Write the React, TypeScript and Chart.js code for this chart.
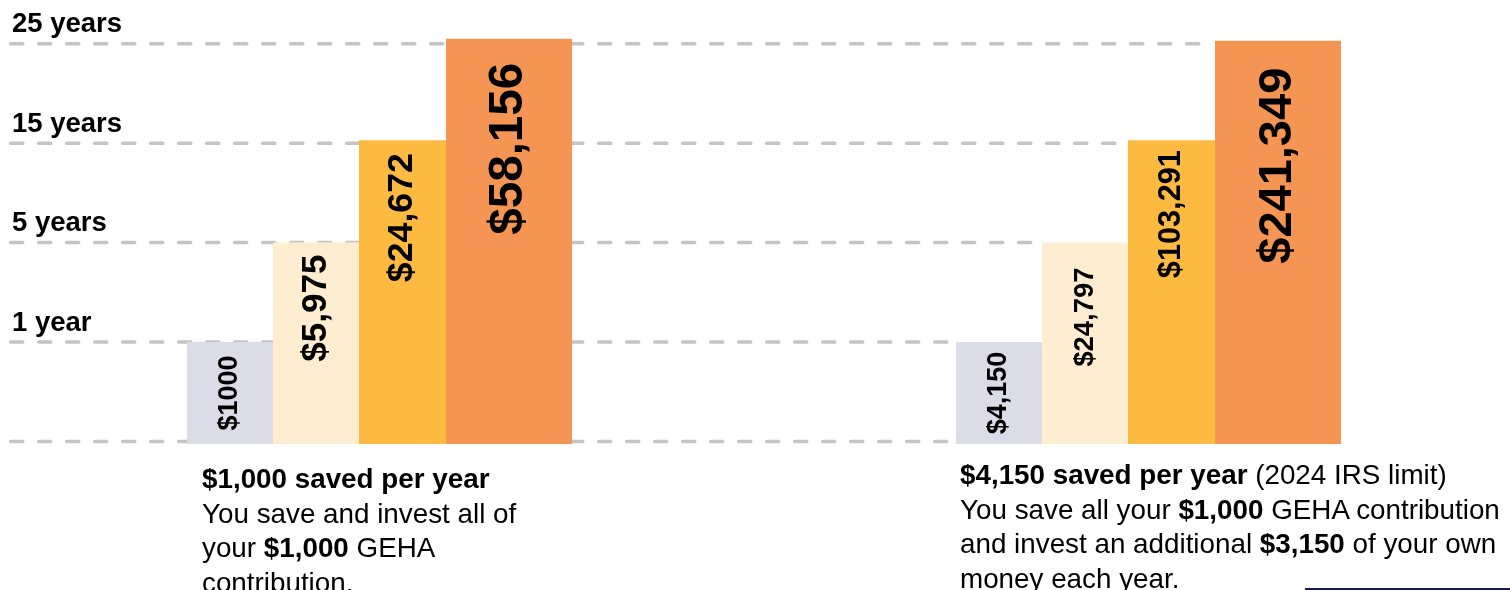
import React, { useEffect, useRef } from "react";
import { Chart, registerables } from "chart.js";

Chart.register(...registerables);

// ---------- data ----------
const groups = ["$1,000 saved per year", "$4,150 saved per year"];
const horizons = ["1 year", "5 years", "15 years", "25 years"];
const tickValues = [0, 1, 2, 3, 4];
const tickLabels = ["", "1 year", "5 years", "15 years", "25 years"];

// bar heights on the (non-linear) "years" level axis, one value per group
const oneYearLevel = [1.0, 1.0];
const fiveYearLevel = [2.0, 2.0];
const fifteenYearLevel = [3.03, 3.03];
const twentyFiveYearLevel = [4.05, 4.03];

// dollar amounts printed in the bars
const oneYearValues = ["$1000", "$4,150"];
const fiveYearValues = ["$5,975", "$24,797"];
const fifteenYearValues = ["$24,672", "$103,291"];
const twentyFiveYearValues = ["$58,156", "$241,349"];

const seriesLevels = [oneYearLevel, fiveYearLevel, fifteenYearLevel, twentyFiveYearLevel];
const seriesValues = [oneYearValues, fiveYearValues, fifteenYearValues, twentyFiveYearValues];

// ---------- styles ----------
const FONT = '"Liberation Sans", Arial, Helvetica, sans-serif';
const barColors = ["#dcdce9", "#feedd0", "#fdba40", "#f59553"];
const categoryPcts = [0.44733, 0.44733, 0.45254, 0.52016];
const barPcts = [1, 1, 1, 1.26];
const labelSizes = [
  [27, 27],
  [35, 27.4],
  [35.7, 30.7],
  [47.6, 47],
];
// -1 = centred in bar, otherwise gap from bar top to text end
const labelPads = [
  [-1, -1],
  [12, 25],
  [13, 10],
  [24, 27],
];

const stairGridPlugin = {
  id: "stairGrid",
  beforeDatasetsDraw(chart: any) {
    const { ctx, chartArea, scales } = chart;
    const y = scales.y;
    ctx.save();
    ctx.strokeStyle = "#c4c4c4";
    ctx.lineWidth = 3.5;
    ctx.lineCap = "round";
    ctx.setLineDash([12, 16]);
    tickValues.forEach((v) => {
      const py = y.getPixelForValue(v);
      let idx = seriesLevels.findIndex((s) => s[1] >= v - 0.01);
      if (idx < 0) idx = seriesLevels.length - 1;
      const el = chart.getDatasetMeta(idx).data[1];
      const p = el.getProps(["x", "width"], true);
      const end = p.x - p.width / 2 - 9;
      ctx.beginPath();
      ctx.moveTo(chartArea.left + 2.75, py);
      ctx.lineTo(end, py);
      ctx.stroke();
    });
    ctx.restore();
  },
};

const barLabelPlugin = {
  id: "barLabels",
  afterDatasetsDraw(chart: any) {
    const ctx = chart.ctx;
    seriesValues.forEach((labels, i) => {
      const meta = chart.getDatasetMeta(i);
      meta.data.forEach((el: any, j: number) => {
        const { x, y, base } = el.getProps(["x", "y", "base"], true);
        const size = labelSizes[i][j];
        const pad = labelPads[i][j];
        ctx.save();
        ctx.font = `bold ${size}px ${FONT}`;
        ctx.fillStyle = "#000";
        ctx.textBaseline = "middle";
        if (pad < 0) {
          ctx.translate(x, (y + base) / 2);
          ctx.textAlign = "center";
        } else {
          ctx.translate(x, y + pad);
          ctx.textAlign = "right";
        }
        ctx.rotate(-Math.PI / 2);
        ctx.fillText(labels[j], 0, 0);
        ctx.restore();
      });
    });
  },
};

function SavingsChart() {
  const ref = useRef<HTMLCanvasElement | null>(null);
  useEffect(() => {
    if (!ref.current) return;
    const chart = new Chart(ref.current, {
      type: "bar",
      data: {
        datasets: horizons.map((h, i) => ({
          label: h,
          data: seriesLevels[i].map((v, g) => ({ x: g, y: v })),
          backgroundColor: barColors[i],
          borderWidth: 0,
          categoryPercentage: categoryPcts[i],
          barPercentage: barPcts[i],
          base: -0.025,
        })),
      },
      options: {
        responsive: false,
        animation: false,
        devicePixelRatio: 1,
        layout: { padding: { left: 0, right: 0, top: 24, bottom: 146 } },
        plugins: {
          legend: { display: false },
          tooltip: { enabled: false },
        },
        scales: {
          x: {
            type: "linear",
            display: false,
            offset: false,
            min: -0.45644,
            max: 1.49675,
            afterBuildTicks: (s: any) => {
              s.ticks = groups.map((_, i) => ({ value: i }));
            },
          },
          y: {
            type: "linear",
            position: "left",
            min: -0.025,
            max: 4.198,
            grid: { display: false, drawTicks: false },
            border: { display: false },
            afterBuildTicks: (s: any) => {
              s.ticks = tickValues.map((v) => ({ value: v }));
            },
            ticks: {
              mirror: true,
              padding: 4,
              labelOffset: -19,
              color: "#000",
              autoSkip: false,
              font: { family: FONT, size: 27.5, weight: "bold" },
              callback: (_v: any, i: number) => tickLabels[i],
            },
          },
        },
      } as any,
      plugins: [stairGridPlugin, barLabelPlugin],
    });
    return () => chart.destroy();
  }, []);
  return (
    <canvas
      ref={ref}
      width={1510}
      height={590}
      style={{ position: "absolute", left: 0, top: 0, display: "block" }}
    />
  );
}

export default function App() {
  const cap: React.CSSProperties = {
    position: "absolute",
    fontFamily: FONT,
    fontSize: "27.8px",
    lineHeight: "34.5px",
    color: "#000",
    whiteSpace: "nowrap",
  };
  return (
    <div
      style={{
        position: "absolute",
        left: 0,
        top: 0,
        width: 1510,
        height: 590,
        overflow: "hidden",
        background: "#fff",
      }}
    >
      <SavingsChart />
      <div style={{ ...cap, left: 202, top: 462 }}>
        <b>{groups[0]}</b>
        <br />
        You save and invest all of
        <br />
        your <b>$1,000</b> GEHA
        <br />
        contribution.
      </div>
      <div style={{ ...cap, left: 960, top: 458 }}>
        <b>{groups[1]}</b> (2024 IRS limit)
        <br />
        You save all your <b>$1,000</b> GEHA contribution
        <br />
        and invest an additional <b>$3,150</b> of your own
        <br />
        money each year.
      </div>
      <div
        style={{
          position: "absolute",
          left: 1305,
          top: 587.5,
          width: 205,
          height: 2.5,
          background: "#1d1b4d",
        }}
      />
    </div>
  );
}
